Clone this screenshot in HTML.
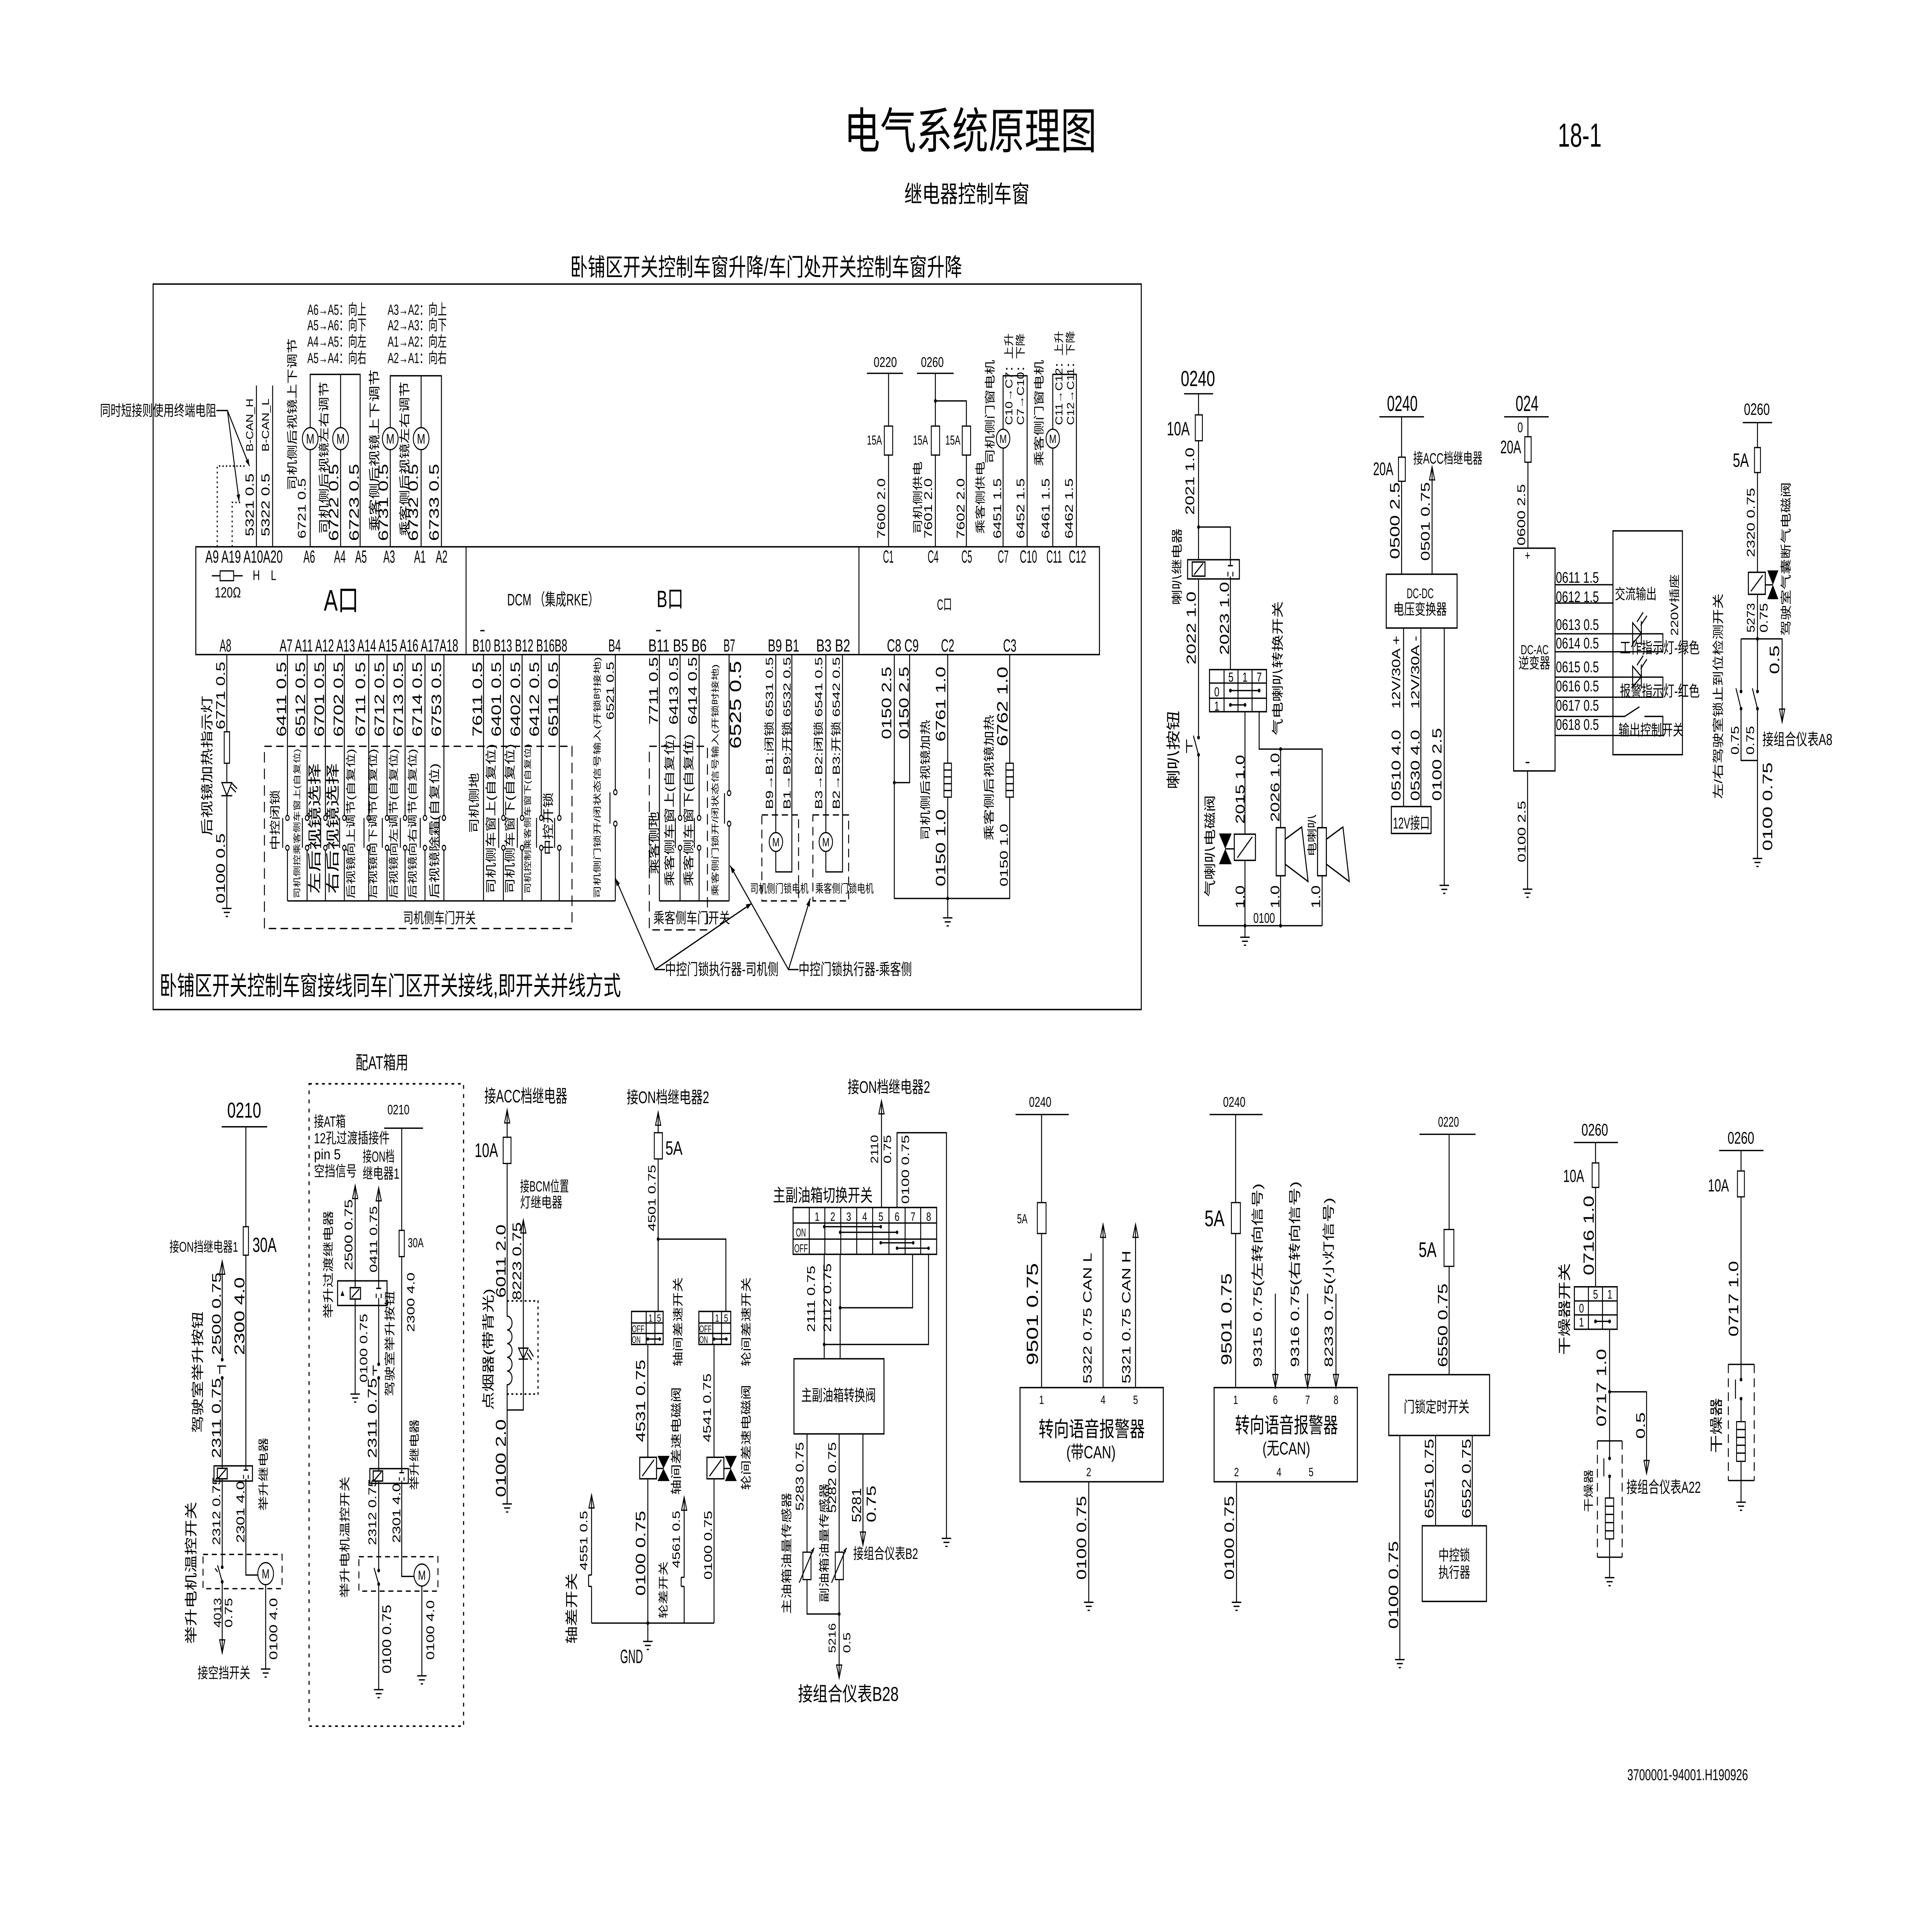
<!DOCTYPE html>
<html><head><meta charset="utf-8"><title>电气系统原理图 18-1</title>
<style>
html,body{margin:0;padding:0;width:100%;height:100%;overflow:hidden;background:#fff}
svg.main{position:fixed;left:0;top:0;width:100vw;height:100vh;display:block}
text{font-family:"Liberation Sans","Noto Sans CJK SC",sans-serif;fill:#000}
.w{stroke:#000;stroke-width:.75;fill:none}
.b{stroke:#000;stroke-width:.8;fill:#fff}
.bn{stroke:#000;stroke-width:.8;fill:none}
.d{stroke:#000;stroke-width:.75;fill:none;stroke-dasharray:6 3.5}
.dt{stroke:#000;stroke-width:.9;fill:none;stroke-dasharray:2.2 3}
.f{fill:#000;stroke:none}
.c{stroke:#000;stroke-width:.7;fill:#fff}
</style></head><body>
<svg class="main" xmlns="http://www.w3.org/2000/svg" xmlns:xlink="http://www.w3.org/1999/xlink" width="7016" height="4958" viewBox="0 0 1552 1096.77" preserveAspectRatio="none">
<defs>
<path id="g" d="M-3.8,0H3.8M-2.4,2.3H2.4M-0.9,4.6H0.9" stroke="#000" stroke-width=".75" fill="none"/>
<path id="au" d="M-2.1,7.5L0,0L2.1,7.5Z" stroke="#000" stroke-width=".7" fill="none"/>
<path id="ad" d="M-2.1,-7.5L0,0L2.1,-7.5Z" stroke="#000" stroke-width=".7" fill="none"/>
</defs>
<rect x="0" y="0" width="1552" height="1096.77" fill="#fff"/>

<!-- ===== Header ===== -->
<text x="678" y="85" font-size="28" textLength="203" lengthAdjust="spacingAndGlyphs">电气系统原理图</text>
<text x="1251.4" y="84" font-size="19" textLength="35.2" lengthAdjust="spacingAndGlyphs">18-1</text>
<text x="726.4" y="115.8" font-size="13.5" textLength="100.7" lengthAdjust="spacingAndGlyphs">继电器控制车窗</text>
<text x="458" y="157.8" font-size="14" textLength="314.9" lengthAdjust="spacingAndGlyphs">卧铺区开关控制车窗升降/车门处开关控制车窗升降</text>

<!-- ===== Top frame ===== -->
<rect x="123" y="162.6" width="793.8" height="415.3" class="bn"/>
<text x="128.1" y="569.5" font-size="15" textLength="370.7" lengthAdjust="spacingAndGlyphs">卧铺区开关控制车窗接线同车门区开关接线,即开关并线方式</text>

<!-- DCM box -->
<rect x="157.3" y="313" width="725.9" height="61.7" class="bn"/>
<path class="w" d="M374.4,313V374.7M690,313V374.7"/>
<g font-size="10">
<text x="164.9" y="322.1" textLength="62.2" lengthAdjust="spacingAndGlyphs">A9 A19 A10A20</text>
<text x="243.7" y="322.1" textLength="9.4" lengthAdjust="spacingAndGlyphs">A6</text>
<text x="268.3" y="322.1" textLength="9.4" lengthAdjust="spacingAndGlyphs">A4</text>
<text x="285.3" y="322.1" textLength="9.4" lengthAdjust="spacingAndGlyphs">A5</text>
<text x="307.9" y="322.1" textLength="9.4" lengthAdjust="spacingAndGlyphs">A3</text>
<text x="332.6" y="322.1" textLength="9.4" lengthAdjust="spacingAndGlyphs">A1</text>
<text x="350.1" y="322.1" textLength="9.4" lengthAdjust="spacingAndGlyphs">A2</text>
<text x="176.4" y="373" textLength="9.4" lengthAdjust="spacingAndGlyphs">A8</text>
<text x="224.6" y="373" textLength="143.5" lengthAdjust="spacingAndGlyphs">A7 A11 A12 A13 A14 A15 A16 A17A18</text>
<text x="379.5" y="373" textLength="76.2" lengthAdjust="spacingAndGlyphs">B10 B13 B12 B16B8</text>
<text x="488.7" y="373" textLength="10" lengthAdjust="spacingAndGlyphs">B4</text>
<text x="520.8" y="373" textLength="46.9" lengthAdjust="spacingAndGlyphs">B11 B5 B6</text>
<text x="581.2" y="373" textLength="9.4" lengthAdjust="spacingAndGlyphs">B7</text>
<text x="616.8" y="373" textLength="25.2" lengthAdjust="spacingAndGlyphs">B9 B1</text>
<text x="655.7" y="373" textLength="27.3" lengthAdjust="spacingAndGlyphs">B3 B2</text>
<text x="712.5" y="373" textLength="25.5" lengthAdjust="spacingAndGlyphs">C8 C9</text>
<text x="755.9" y="373" textLength="10.7" lengthAdjust="spacingAndGlyphs">C2</text>
<text x="805.8" y="373" textLength="10.7" lengthAdjust="spacingAndGlyphs">C3</text>
<text x="709.3" y="322.1" textLength="8.6" lengthAdjust="spacingAndGlyphs">C1</text>
<text x="745.2" y="322.1" textLength="8.8" lengthAdjust="spacingAndGlyphs">C4</text>
<text x="772.3" y="322.1" textLength="8.6" lengthAdjust="spacingAndGlyphs">C5</text>
<text x="801.5" y="322.1" textLength="8.8" lengthAdjust="spacingAndGlyphs">C7</text>
<text x="819.2" y="322.1" textLength="13.9" lengthAdjust="spacingAndGlyphs">C10</text>
<text x="840.6" y="322.1" textLength="12.6" lengthAdjust="spacingAndGlyphs">C11</text>
<text x="858.6" y="322.1" textLength="13.9" lengthAdjust="spacingAndGlyphs">C12</text>
</g>
<path class="w" d="M385.8,361H389.3M527,361H530.8"/>
<text x="203" y="332" font-size="8">H</text>
<text x="217.5" y="332" font-size="8">L</text>
<path class="w" d="M170.2,329.6H176.8M187.7,329.6H194.9"/>
<rect x="176.8" y="326.8" width="10.9" height="5.6" class="c"/>
<text x="172.5" y="342" font-size="8.5" textLength="21" lengthAdjust="spacingAndGlyphs">120Ω</text>
<text x="260.1" y="349.5" font-size="17" textLength="28" lengthAdjust="spacingAndGlyphs">A口</text>
<text x="407.4" y="346.5" font-size="9.5" textLength="73.6" lengthAdjust="spacingAndGlyphs">DCM （集成RKE）</text>
<text x="527.5" y="347.5" font-size="13.5" textLength="21.5" lengthAdjust="spacingAndGlyphs">B口</text>
<text x="752.7" y="349" font-size="8.5" textLength="12" lengthAdjust="spacingAndGlyphs">C口</text>

<!-- A top wiring -->
<path class="w" d="M206,220.7V313M219,220.7V313"/>
<path class="dt" style="stroke-dasharray:1 1.8" d="M174.5,313V266.8H196.6M186.5,313V287.6H194.1"/>
<text x="80.3" y="238" font-size="8.5" textLength="93.5" lengthAdjust="spacingAndGlyphs">同时短接则使用终端电阻</text>
<path class="w" d="M173.8,235H182.7L200.4,266.8M182.7,235L192.1,287"/>
<path class="f" d="M200.4,266.8L199.68,262.62L197.24,263.98ZM192.1,287L192.78,282.85L190.02,283.35Z"/>
<path class="w" d="M249.2,313V214.3H289.3V313M273.6,214.3V313M313.5,313V215.1H354.6V313M338.3,215.1V313"/>
<g>
<circle cx="249.2" cy="251.1" r="6.3" class="c"/><circle cx="273.6" cy="251.1" r="6.3" class="c"/>
<circle cx="313.5" cy="251.1" r="6.3" class="c"/><circle cx="338.3" cy="251.1" r="6.3" class="c"/>
<g font-size="8" text-anchor="middle"><text x="249.2" y="254">M</text><text x="273.6" y="254">M</text><text x="313.5" y="254">M</text><text x="338.3" y="254">M</text></g>
</g>
<g font-size="8.5">
<text x="246.9" y="180.2" textLength="47.5" lengthAdjust="spacingAndGlyphs">A6→A5：向上</text>
<text x="246.9" y="189" textLength="47.5" lengthAdjust="spacingAndGlyphs">A5→A6：向下</text>
<text x="246.9" y="198.4" textLength="47.5" lengthAdjust="spacingAndGlyphs">A4→A5：向左</text>
<text x="246.9" y="207.8" textLength="47.5" lengthAdjust="spacingAndGlyphs">A5→A4：向右</text>
<text x="311.4" y="180.2" textLength="47.5" lengthAdjust="spacingAndGlyphs">A3→A2：向上</text>
<text x="311.4" y="189" textLength="47.5" lengthAdjust="spacingAndGlyphs">A2→A3：向下</text>
<text x="311.4" y="198.4" textLength="47.5" lengthAdjust="spacingAndGlyphs">A1→A2：向左</text>
<text x="311.4" y="207.8" textLength="47.5" lengthAdjust="spacingAndGlyphs">A2→A1：向右</text>
</g>
<text transform="translate(237.8,280.7) rotate(-90)" font-size="8.7" textLength="87.1" lengthAdjust="spacingAndGlyphs">司机侧后视镜上下调节</text>
<text transform="translate(245.5,308.3) rotate(-90)" font-size="9" textLength="34.5" lengthAdjust="spacingAndGlyphs">6721 0.5</text>
<text transform="translate(263.2,305.6) rotate(-90)" font-size="8.7" textLength="87.2" lengthAdjust="spacingAndGlyphs">司机侧后视镜左右调节</text>
<text transform="translate(271.7,309.7) rotate(-90)" font-size="11" textLength="44.2" lengthAdjust="spacingAndGlyphs">6722 0.5</text>
<text transform="translate(288.2,309.7) rotate(-90)" font-size="11" textLength="44.2" lengthAdjust="spacingAndGlyphs">6723 0.5</text>
<text transform="translate(304.1,304.2) rotate(-90)" font-size="9.2" textLength="92.7" lengthAdjust="spacingAndGlyphs">乘客侧后视镜上下调节</text>
<text transform="translate(311.6,309.7) rotate(-90)" font-size="11" textLength="44.2" lengthAdjust="spacingAndGlyphs">6731 0.5</text>
<text transform="translate(328.1,307) rotate(-90)" font-size="8.8" textLength="88.6" lengthAdjust="spacingAndGlyphs">乘客侧后视镜左右调节</text>
<text transform="translate(335.7,309.7) rotate(-90)" font-size="11" textLength="44.2" lengthAdjust="spacingAndGlyphs">6732 0.5</text>
<text transform="translate(352.5,309.7) rotate(-90)" font-size="11" textLength="44.2" lengthAdjust="spacingAndGlyphs">6733 0.5</text>
<text transform="translate(203.3,258.5) rotate(-90)" font-size="8" textLength="30.4" lengthAdjust="spacingAndGlyphs">B-CAN_H</text>
<text transform="translate(203.8,307) rotate(-90)" font-size="9.5" textLength="36" lengthAdjust="spacingAndGlyphs">5321 0.5</text>
<text transform="translate(216,258.5) rotate(-90)" font-size="8" textLength="30.4" lengthAdjust="spacingAndGlyphs">B-CAN_L</text>
<text transform="translate(216.5,307) rotate(-90)" font-size="9.5" textLength="36" lengthAdjust="spacingAndGlyphs">5322 0.5</text>

<!-- A8 heater indicator -->
<path class="w" d="M182.2,374.7V418.9M182.2,436.9V448M182.2,455.5V520"/>
<rect x="180.1" y="418.9" width="4.3" height="18" class="c"/>
<path class="w" d="M178.2,448H186.2L182.2,455.3ZM177.8,455.5H186.6M185.5,450.5L189.5,453.5M186.5,448.5L190.5,451.5"/>
<use xlink:href="#g" x="182.2" y="520"/>
<text transform="translate(169.8,478.4) rotate(-90)" font-size="10" textLength="80.2" lengthAdjust="spacingAndGlyphs">后视镜加热指示灯</text>
<text transform="translate(180.7,417.5) rotate(-90)" font-size="10" textLength="38.7" lengthAdjust="spacingAndGlyphs">6771 0.5</text>
<text transform="translate(180.7,517.1) rotate(-90)" font-size="10" textLength="40.1" lengthAdjust="spacingAndGlyphs">0100 0.5</text>

<!-- Driver door switches -->
<path class="w" d="M230.9,374.7V466.8M230.9,486.7V515.7M246.7,374.7V466.8M246.7,486.7V515.7M261.4,374.7V466.8M261.4,486.7V515.7M276.6,374.7V466.8M276.6,486.7V515.7M296.2,374.7V466.8M296.2,486.7V515.7M310.9,374.7V466.8M310.9,486.7V515.7M325.4,374.7V466.8M325.4,486.7V515.7M341.4,374.7V466.8M341.4,486.7V515.7M356.6,374.7V466.8M356.6,486.7V515.7M388.4,374.7V515.7M404.4,374.7V466.8M404.4,486.7V515.7M419.4,374.7V466.8M419.4,486.7V515.7M434.8,374.7V466.8M434.8,486.7V515.7M449.3,374.7V466.8M449.3,486.7V515.7M494.3,374.7V452.1M494.3,472.9V515.7M230.9,515.7H494.3"/>
<path class="w" d="M227.1,468.2V485.3M242.9,468.2V485.3M257.6,468.2V485.3M272.8,468.2V485.3M292.4,468.2V485.3M307.1,468.2V485.3M321.6,468.2V485.3M337.6,468.2V485.3M352.8,468.2V485.3M400.6,468.2V485.3M415.6,468.2V485.3M431,468.2V485.3M445.5,468.2V485.3M490,453.5V471.5"/>
<g class="c">
<circle cx="230.9" cy="468.2" r="1.4"/><circle cx="230.9" cy="485.3" r="1.4"/>
<circle cx="246.7" cy="468.2" r="1.4"/><circle cx="246.7" cy="485.3" r="1.4"/>
<circle cx="261.4" cy="468.2" r="1.4"/><circle cx="261.4" cy="485.3" r="1.4"/>
<circle cx="276.6" cy="468.2" r="1.4"/><circle cx="276.6" cy="485.3" r="1.4"/>
<circle cx="296.2" cy="468.2" r="1.4"/><circle cx="296.2" cy="485.3" r="1.4"/>
<circle cx="310.9" cy="468.2" r="1.4"/><circle cx="310.9" cy="485.3" r="1.4"/>
<circle cx="325.4" cy="468.2" r="1.4"/><circle cx="325.4" cy="485.3" r="1.4"/>
<circle cx="341.4" cy="468.2" r="1.4"/><circle cx="341.4" cy="485.3" r="1.4"/>
<circle cx="356.6" cy="468.2" r="1.4"/><circle cx="356.6" cy="485.3" r="1.4"/>
<circle cx="404.4" cy="468.2" r="1.4"/><circle cx="404.4" cy="485.3" r="1.4"/>
<circle cx="419.4" cy="468.2" r="1.4"/><circle cx="419.4" cy="485.3" r="1.4"/>
<circle cx="434.8" cy="468.2" r="1.4"/><circle cx="434.8" cy="485.3" r="1.4"/>
<circle cx="449.3" cy="468.2" r="1.4"/><circle cx="449.3" cy="485.3" r="1.4"/>
<circle cx="494.3" cy="453.5" r="1.4"/><circle cx="494.3" cy="471.5" r="1.4"/>
</g>
<rect x="212.4" y="427.2" width="247.1" height="104.3" class="d"/>
<g font-size="11">
<text transform="translate(229.8,421.7) rotate(-90)" textLength="42.9" lengthAdjust="spacingAndGlyphs">6411 0.5</text>
<text transform="translate(245.1,421.7) rotate(-90)" textLength="42.9" lengthAdjust="spacingAndGlyphs">6512 0.5</text>
<text transform="translate(260.3,421.7) rotate(-90)" textLength="42.9" lengthAdjust="spacingAndGlyphs">6701 0.5</text>
<text transform="translate(275.6,421.7) rotate(-90)" textLength="42.9" lengthAdjust="spacingAndGlyphs">6702 0.5</text>
<text transform="translate(293.3,421.7) rotate(-90)" textLength="42.9" lengthAdjust="spacingAndGlyphs">6711 0.5</text>
<text transform="translate(308.6,421.7) rotate(-90)" textLength="42.9" lengthAdjust="spacingAndGlyphs">6712 0.5</text>
<text transform="translate(323.8,421.7) rotate(-90)" textLength="42.9" lengthAdjust="spacingAndGlyphs">6713 0.5</text>
<text transform="translate(339,421.7) rotate(-90)" textLength="42.9" lengthAdjust="spacingAndGlyphs">6714 0.5</text>
<text transform="translate(354.3,421.7) rotate(-90)" textLength="42.9" lengthAdjust="spacingAndGlyphs">6753 0.5</text>
<text transform="translate(387.3,421.7) rotate(-90)" textLength="42.9" lengthAdjust="spacingAndGlyphs">7611 0.5</text>
<text transform="translate(402.5,421.7) rotate(-90)" textLength="42.9" lengthAdjust="spacingAndGlyphs">6401 0.5</text>
<text transform="translate(417.8,421.7) rotate(-90)" textLength="42.9" lengthAdjust="spacingAndGlyphs">6402 0.5</text>
<text transform="translate(433,421.7) rotate(-90)" textLength="42.9" lengthAdjust="spacingAndGlyphs">6412 0.5</text>
<text transform="translate(448.2,421.7) rotate(-90)" textLength="42.9" lengthAdjust="spacingAndGlyphs">6511 0.5</text>
</g>
<text transform="translate(223.9,486.7) rotate(-90)" font-size="8.6" textLength="34.6" lengthAdjust="spacingAndGlyphs">中控闭锁</text>
<text transform="translate(240.7,514.3) rotate(-90)" font-size="6.2" textLength="85.7" lengthAdjust="spacingAndGlyphs">司机侧控乘客侧车窗上(自复位)</text>
<text transform="translate(256.5,511.6) rotate(-90)" font-size="11" textLength="74.7" lengthAdjust="spacingAndGlyphs">左后视镜选择</text>
<text transform="translate(271.2,511.6) rotate(-90)" font-size="11" textLength="74.7" lengthAdjust="spacingAndGlyphs">右后视镜选择</text>
<text transform="translate(284.6,514.3) rotate(-90)" font-size="8" textLength="85.7" lengthAdjust="spacingAndGlyphs">后视镜向上调节(自复位)</text>
<text transform="translate(302.4,514.3) rotate(-90)" font-size="8" textLength="85.7" lengthAdjust="spacingAndGlyphs">后视镜向下调节(自复位)</text>
<text transform="translate(318.9,514.3) rotate(-90)" font-size="8" textLength="85.7" lengthAdjust="spacingAndGlyphs">后视镜向左调节(自复位)</text>
<text transform="translate(334.1,514.3) rotate(-90)" font-size="8" textLength="85.7" lengthAdjust="spacingAndGlyphs">后视镜向右调节(自复位)</text>
<text transform="translate(352.2,514.3) rotate(-90)" font-size="9" textLength="77.4" lengthAdjust="spacingAndGlyphs">后视镜除霜(自复位)</text>
<text transform="translate(384,477) rotate(-90)" font-size="9" textLength="34.6" lengthAdjust="spacingAndGlyphs">司机侧地</text>
<text transform="translate(397.4,511.6) rotate(-90)" font-size="8.8" textLength="85.8" lengthAdjust="spacingAndGlyphs">司机侧车窗上(自复位)</text>
<text transform="translate(412.6,511.6) rotate(-90)" font-size="8.8" textLength="85.8" lengthAdjust="spacingAndGlyphs">司机侧车窗下(自复位)</text>
<text transform="translate(426.1,511.6) rotate(-90)" font-size="6.2" textLength="85.8" lengthAdjust="spacingAndGlyphs">司机控制乘客侧车窗下(自复位)</text>
<text transform="translate(443.6,489.5) rotate(-90)" font-size="9" textLength="36" lengthAdjust="spacingAndGlyphs">中控开锁</text>
<text transform="translate(482.1,514.3) rotate(-90)" font-size="6.5" textLength="138.2" lengthAdjust="spacingAndGlyphs">司机侧门锁开/闭状态信号输入(开锁时接地)</text>
<text transform="translate(493.1,412) rotate(-90)" font-size="8.5" textLength="33.2" lengthAdjust="spacingAndGlyphs">6521 0.5</text>
<text x="323.8" y="528.5" font-size="8.5" textLength="58.4" lengthAdjust="spacingAndGlyphs">司机侧车门开关</text>

<!-- Passenger door switches -->
<path class="w" d="M529.7,374.7V515.7M546.3,374.7V466.8M546.3,486.7V515.7M561.6,374.7V466.8M561.6,486.7V515.7M585.7,374.7V452.6M585.7,472.9V515.7M529.7,515.7H585.7M542.5,468.2V485.3M557.8,468.2V485.3M582,454V471.5"/>
<g class="c">
<circle cx="546.3" cy="468.2" r="1.4"/><circle cx="546.3" cy="485.3" r="1.4"/>
<circle cx="561.6" cy="468.2" r="1.4"/><circle cx="561.6" cy="485.3" r="1.4"/>
<circle cx="585.7" cy="454" r="1.4"/><circle cx="585.7" cy="471.5" r="1.4"/>
</g>
<rect x="521.6" y="427.2" width="46.7" height="105.1" class="d"/>
<text transform="translate(528.6,500.5) rotate(-90)" font-size="9" textLength="36" lengthAdjust="spacingAndGlyphs">乘客侧地</text>
<text transform="translate(540.9,507.4) rotate(-90)" font-size="8.8" textLength="87.1" lengthAdjust="spacingAndGlyphs">乘客侧车窗上(自复位)</text>
<text transform="translate(556.2,507.4) rotate(-90)" font-size="8.8" textLength="87.1" lengthAdjust="spacingAndGlyphs">乘客侧车窗下(自复位)</text>
<text transform="translate(576.8,513) rotate(-90)" font-size="6.3" textLength="132.8" lengthAdjust="spacingAndGlyphs">乘客侧门锁开/闭状态信号输入(开锁时接地)</text>
<text transform="translate(528.5,414.8) rotate(-90)" font-size="10" textLength="38.7" lengthAdjust="spacingAndGlyphs">7711 0.5</text>
<text transform="translate(544.6,414.8) rotate(-90)" font-size="10" textLength="38.7" lengthAdjust="spacingAndGlyphs">6413 0.5</text>
<text transform="translate(559.8,414.8) rotate(-90)" font-size="10" textLength="38.7" lengthAdjust="spacingAndGlyphs">6414 0.5</text>
<text transform="translate(595.2,428.6) rotate(-90)" font-size="13" textLength="50.3" lengthAdjust="spacingAndGlyphs">6525 0.5</text>
<text x="524.9" y="528.5" font-size="8.5" textLength="61.6" lengthAdjust="spacingAndGlyphs">乘客侧车门开关</text>

<!-- Door lock motors -->
<rect x="612" y="466.5" width="29.5" height="49.2" class="d" style="stroke-dasharray:5 3"/>
<rect x="653" y="466.5" width="28.7" height="49.2" class="d" style="stroke-dasharray:5 3"/>
<path class="w" d="M623.2,374.7V499.1H636.1V374.7M663.4,374.7V499.1H676.8V374.7"/>
<circle cx="623.3" cy="482" r="5.4" class="c"/><circle cx="663.4" cy="482" r="5.4" class="c"/>
<g font-size="7" text-anchor="middle"><text x="623.3" y="484.5">M</text><text x="663.4" y="484.5">M</text></g>
<text transform="translate(620.9,463.2) rotate(-90)" font-size="8.4" textLength="87.1" lengthAdjust="spacingAndGlyphs">B9→B1:闭锁 6531 0.5</text>
<text transform="translate(635.1,463.2) rotate(-90)" font-size="8.4" textLength="87.1" lengthAdjust="spacingAndGlyphs">B1→B9:开锁 6532 0.5</text>
<text transform="translate(660.5,463.2) rotate(-90)" font-size="8.4" textLength="87.1" lengthAdjust="spacingAndGlyphs">B3→B2:闭锁 6541 0.5</text>
<text transform="translate(674.7,463.2) rotate(-90)" font-size="8.4" textLength="87.1" lengthAdjust="spacingAndGlyphs">B2→B3:开锁 6542 0.5</text>
<text x="602.6" y="511" font-size="6.8" textLength="46.9" lengthAdjust="spacingAndGlyphs">司机侧门锁电机</text>
<text x="654.9" y="511" font-size="6.8" textLength="46.9" lengthAdjust="spacingAndGlyphs">乘客侧门锁电机</text>
<text x="534.2" y="558" font-size="9" textLength="91.2" lengthAdjust="spacingAndGlyphs">中控门锁执行器-司机侧</text>
<text x="641.5" y="558" font-size="9" textLength="91.1" lengthAdjust="spacingAndGlyphs">中控门锁执行器-乘客侧</text>
<path class="w" d="M534.2,555H526.2L494.3,502.7M526.2,555L603.9,517.1M641.5,555H633.4L586.5,495.5M633.4,555L650.9,514.3"/>
<path class="f" d="M494.3,502.7L497.92,505.76L495.36,507.32ZM603.9,517.1L600.51,520.42L599.19,517.72ZM586.5,495.5L590.47,498.1L588.11,499.96ZM650.9,514.3L650.5,519.03L647.74,517.85Z"/>

<!-- C port top -->
<text x="701.8" y="210" font-size="8" textLength="18.7" lengthAdjust="spacingAndGlyphs">0220</text>
<text x="739.8" y="210" font-size="8" textLength="18.3" lengthAdjust="spacingAndGlyphs">0260</text>
<path class="w" d="M696.4,213.7H725.4M713.8,213.7V313M736.6,213.7H766.1M751.4,213.7V313M751.4,229.5H776.3V313"/>
<circle cx="751.4" cy="229.5" r="1.1" class="f"/>
<rect x="710.4" y="243.9" width="6.7" height="16.6" class="c"/>
<rect x="748.1" y="243.9" width="6.7" height="16.6" class="c"/>
<rect x="773" y="243.9" width="6.7" height="16.6" class="c"/>
<g font-size="7.5">
<text x="696.4" y="254.5" textLength="12.1" lengthAdjust="spacingAndGlyphs">15A</text>
<text x="733.4" y="254.5" textLength="12.1" lengthAdjust="spacingAndGlyphs">15A</text>
<text x="759.4" y="254.5" textLength="12.1" lengthAdjust="spacingAndGlyphs">15A</text>
</g>
<text transform="translate(711,308.3) rotate(-90)" font-size="9" textLength="34.5" lengthAdjust="spacingAndGlyphs">7600 2.0</text>
<text transform="translate(740.2,305.6) rotate(-90)" font-size="8.3" textLength="41.5" lengthAdjust="spacingAndGlyphs">司机侧供电</text>
<text transform="translate(748.7,308.3) rotate(-90)" font-size="9" textLength="34.5" lengthAdjust="spacingAndGlyphs">7601 2.0</text>
<text transform="translate(774.7,308.3) rotate(-90)" font-size="9" textLength="34.5" lengthAdjust="spacingAndGlyphs">7602 2.0</text>
<text transform="translate(790.5,305.6) rotate(-90)" font-size="8.3" textLength="41.5" lengthAdjust="spacingAndGlyphs">乘客侧供电</text>
<path class="w" d="M805.8,313V215.1H825.1V313M845.7,313V214.3H864.7V313"/>
<circle cx="805.8" cy="251.1" r="5.4" class="c"/><circle cx="845.7" cy="251.1" r="5.4" class="c"/>
<g font-size="7" text-anchor="middle"><text x="805.8" y="253.6">M</text><text x="845.7" y="253.6">M</text></g>
<text transform="translate(798.2,265.5) rotate(-90)" font-size="8.5" textLength="59.5" lengthAdjust="spacingAndGlyphs">司机侧门窗电机</text>
<text transform="translate(813.2,243.3) rotate(-90)" font-size="8" textLength="52.5" lengthAdjust="spacingAndGlyphs">C10→C7：上升</text>
<text transform="translate(822.6,243.3) rotate(-90)" font-size="8" textLength="52.5" lengthAdjust="spacingAndGlyphs">C7→C10：下降</text>
<text transform="translate(804.2,308.3) rotate(-90)" font-size="9" textLength="34.5" lengthAdjust="spacingAndGlyphs">6451 1.5</text>
<text transform="translate(822.9,308.3) rotate(-90)" font-size="9" textLength="34.5" lengthAdjust="spacingAndGlyphs">6452 1.5</text>
<text transform="translate(837.6,266.8) rotate(-90)" font-size="8.5" textLength="60.8" lengthAdjust="spacingAndGlyphs">乘客侧门窗电机</text>
<text transform="translate(853.4,243.3) rotate(-90)" font-size="8" textLength="53.9" lengthAdjust="spacingAndGlyphs">C11→C12：上升</text>
<text transform="translate(862.8,243.3) rotate(-90)" font-size="8" textLength="53.9" lengthAdjust="spacingAndGlyphs">C12→C11：下降</text>
<text transform="translate(843,308.3) rotate(-90)" font-size="9" textLength="34.5" lengthAdjust="spacingAndGlyphs">6461 1.5</text>
<text transform="translate(861.8,308.3) rotate(-90)" font-size="9" textLength="34.5" lengthAdjust="spacingAndGlyphs">6462 1.5</text>

<!-- C port bottom -->
<path class="w" d="M718.4,374.7V514.3H811.1V374.7M730.7,374.7V448H718.4M761.3,374.7V525.4"/>
<circle cx="718.4" cy="448" r="1.1" class="f"/><circle cx="761.3" cy="514.3" r="1.1" class="f"/>
<rect x="758.3" y="436.9" width="6" height="19.4" class="c"/>
<rect x="808.1" y="436.9" width="6" height="19.4" class="c"/>
<path class="w" d="M758.3,440.8H764.3M758.3,444.7H764.3M758.3,448.6H764.3M758.3,452.5H764.3M808.1,440.8H814.1M808.1,444.7H814.1M808.1,448.6H814.1M808.1,452.5H814.1"/>
<use xlink:href="#g" x="761.3" y="525.4"/>
<text transform="translate(715.9,423.1) rotate(-90)" font-size="11" textLength="41.5" lengthAdjust="spacingAndGlyphs">0150 2.5</text>
<text transform="translate(729.9,423.1) rotate(-90)" font-size="11" textLength="41.5" lengthAdjust="spacingAndGlyphs">0150 2.5</text>
<text transform="translate(746.4,481.1) rotate(-90)" font-size="8.6" textLength="69.1" lengthAdjust="spacingAndGlyphs">司机侧后视镜加热</text>
<text transform="translate(759.4,424.5) rotate(-90)" font-size="11" textLength="42.9" lengthAdjust="spacingAndGlyphs">6761 1.0</text>
<text transform="translate(759.4,507.4) rotate(-90)" font-size="11" textLength="44.2" lengthAdjust="spacingAndGlyphs">0150 1.0</text>
<text transform="translate(797.5,481.1) rotate(-90)" font-size="8.8" textLength="71.9" lengthAdjust="spacingAndGlyphs">乘客侧后视镜加热</text>
<text transform="translate(809.3,427.2) rotate(-90)" font-size="12" textLength="45.6" lengthAdjust="spacingAndGlyphs">6762 1.0</text>
<text transform="translate(809.5,507.4) rotate(-90)" font-size="9" textLength="35.9" lengthAdjust="spacingAndGlyphs">0150 1.0</text>

<!-- ===== Horn circuit ===== -->
<text x="948.5" y="221" font-size="12.5" textLength="27.6" lengthAdjust="spacingAndGlyphs">0240</text>
<path class="w" d="M951.2,225.4H974.5M962.8,225.4V421.1M962.8,433.2V529.9H1062.1M962.8,301.7H988.4V320.4M988.4,331.4V383.3M1000.1,407.4V529.9M1011.5,407.4V428.8H1062.1V529.9M1028.7,428.8V529.9M1000.1,529.9V536.5"/>
<circle cx="962.8" cy="301.7" r="1.1" class="f"/>
<rect x="960.2" y="237.5" width="5.7" height="14.8" class="c"/>
<text x="937.3" y="249.2" font-size="11" textLength="18.4" lengthAdjust="spacingAndGlyphs">10A</text>
<text transform="translate(959.3,294.7) rotate(-90)" font-size="10" textLength="38.5" lengthAdjust="spacingAndGlyphs">2021 1.0</text>
<rect x="954" y="320.4" width="41.6" height="11" class="b"/>
<rect x="957.7" y="321.7" width="10.3" height="8.1" class="bn"/>
<path class="w" d="M959.2,329L966.5,322.4M988.4,320.4V323.8M986.4,323.8H990.4M986.4,327.3V330M990.4,327.3V330M988.4,330V331.4"/>
<text transform="translate(948.6,346.3) rotate(-90)" font-size="8.8" textLength="43.9" lengthAdjust="spacingAndGlyphs">喇叭继电器</text>
<text transform="translate(960.6,380.4) rotate(-90)" font-size="10.7" textLength="41.8" lengthAdjust="spacingAndGlyphs">2022 1.0</text>
<text transform="translate(987.2,374.9) rotate(-90)" font-size="10.7" textLength="41.8" lengthAdjust="spacingAndGlyphs">2023 1.0</text>
<rect x="971.6" y="383.3" width="45.8" height="24.1" class="bn"/>
<path class="w" d="M983.3,383.3V407.4M994.5,383.3V407.4M1005.8,383.3V407.4M971.6,391H1017.4M971.6,399.7H1017.4M988.4,395.3H1011.5M988.4,403.5H1000.1"/>
<g class="f"><circle cx="988.4" cy="395.3" r="1.1"/><circle cx="1011.5" cy="395.3" r="1.1"/><circle cx="988.4" cy="403.5" r="1.1"/><circle cx="1000.1" cy="403.5" r="1.1"/></g>
<g font-size="7.5" text-anchor="middle"><text x="988.8" y="390.2">5</text><text x="1000.1" y="390.2">1</text><text x="1011.5" y="390.2">7</text><text x="977.5" y="398.6">0</text><text x="977.5" y="406.8">1</text></g>
<text transform="translate(1029.8,421) rotate(-90)" font-size="9.6" textLength="76.9" lengthAdjust="spacingAndGlyphs">气电喇叭转换开关</text>
<path class="w" d="M962.8,432.1L958.7,421.1M953.2,423.3V431M953.2,427H958"/>
<circle cx="962.8" cy="422.2" r="1.1" class="f"/><circle cx="962.8" cy="432.1" r="1.1" class="f"/>
<text transform="translate(946.5,451.8) rotate(-90)" font-size="11.3" textLength="45" lengthAdjust="spacingAndGlyphs">喇叭按钮</text>
<rect x="991.5" y="477.5" width="17" height="15" class="b"/>
<path class="w" d="M994,491L1006,479M984.3,485.9H991.5"/>
<path class="f" d="M979.2,477.1H989.4L984.3,485.9ZM979.2,494.7H989.4L984.3,485.9Z"/>
<text transform="translate(975.5,513.4) rotate(-90)" font-size="9.7" textLength="58.3" lengthAdjust="spacingAndGlyphs">气喇叭电磁阀</text>
<text transform="translate(999.6,471.6) rotate(-90)" font-size="10" textLength="39.5" lengthAdjust="spacingAndGlyphs">2015 1.0</text>
<text transform="translate(999.6,520) rotate(-90)" font-size="10" textLength="13.2" lengthAdjust="spacingAndGlyphs">1.0</text>
<circle cx="1028.7" cy="428.8" r="1.1" class="f"/>
<rect x="1025.2" y="473.8" width="7.2" height="27.5" class="b"/>
<rect x="1058.4" y="473.8" width="7.1" height="27.5" class="b"/>
<path class="bn" d="M1032.4,480.4L1045.7,473.4L1050.8,504.6L1032.4,494.7ZM1065.5,480.4L1078.8,473.4L1083.9,504.6L1065.5,494.7Z"/>
<text transform="translate(1027.8,470.5) rotate(-90)" font-size="10" textLength="39.5" lengthAdjust="spacingAndGlyphs">2026 1.0</text>
<text transform="translate(1027.8,520) rotate(-90)" font-size="10" textLength="13.2" lengthAdjust="spacingAndGlyphs">1.0</text>
<text transform="translate(1056.8,490.3) rotate(-90)" font-size="8" textLength="24.2" lengthAdjust="spacingAndGlyphs">电喇叭</text>
<text transform="translate(1060.5,520) rotate(-90)" font-size="10" textLength="13.2" lengthAdjust="spacingAndGlyphs">1.0</text>
<circle cx="1000.1" cy="529.9" r="1.1" class="f"/><circle cx="1028.7" cy="529.9" r="1.1" class="f"/>
<use xlink:href="#g" x="1000.1" y="536.5"/>
<text x="1006.8" y="528.3" font-size="8" textLength="17.4" lengthAdjust="spacingAndGlyphs">0100</text>

<!-- ===== DC-DC ===== -->
<text x="1114.2" y="235.3" font-size="12.5" textLength="24.6" lengthAdjust="spacingAndGlyphs">0240</text>
<path class="w" d="M1108.1,238.6H1143.9M1125.9,238.6V328.7M1150.4,328.7V267.2M1127.5,359.5V461.7M1141.4,359.5V461.7M1160.2,359.5V506.8"/>
<use xlink:href="#au" x="1150.4" y="267.2"/>
<rect x="1123.4" y="261.7" width="5.5" height="13.8" class="c"/>
<text x="1103" y="272" font-size="10.5" textLength="16.3" lengthAdjust="spacingAndGlyphs">20A</text>
<text x="1135.3" y="265.4" font-size="8.6" textLength="55.6" lengthAdjust="spacingAndGlyphs">接ACC档继电器</text>
<text transform="translate(1124.3,320) rotate(-90)" font-size="11" textLength="44" lengthAdjust="spacingAndGlyphs">0500 2.5</text>
<text transform="translate(1148.5,321) rotate(-90)" font-size="10" textLength="45" lengthAdjust="spacingAndGlyphs">0501 0.75</text>
<rect x="1113.6" y="328.7" width="56.9" height="30.8" class="bn"/>
<text x="1130" y="342.4" font-size="8" textLength="21.7" lengthAdjust="spacingAndGlyphs">DC-DC</text>
<text x="1119.3" y="351.8" font-size="8.7" textLength="43" lengthAdjust="spacingAndGlyphs">电压变换器</text>
<rect x="1117.7" y="461.7" width="31.9" height="15.4" class="bn"/>
<text x="1118.9" y="474.3" font-size="9" textLength="29.6" lengthAdjust="spacingAndGlyphs">12V接口</text>
<use xlink:href="#g" x="1160.2" y="506.8"/>
<text transform="translate(1124.8,405.7) rotate(-90)" font-size="9.5" textLength="41.8" lengthAdjust="spacingAndGlyphs">12V/30A +</text>
<text transform="translate(1125.1,458.4) rotate(-90)" font-size="10.4" textLength="40.6" lengthAdjust="spacingAndGlyphs">0510 4.0</text>
<text transform="translate(1140.1,405.7) rotate(-90)" font-size="9.5" textLength="41.8" lengthAdjust="spacingAndGlyphs">12V/30A -</text>
<text transform="translate(1140.4,458.4) rotate(-90)" font-size="10.4" textLength="40.6" lengthAdjust="spacingAndGlyphs">0530 4.0</text>
<text transform="translate(1158,458.4) rotate(-90)" font-size="10.7" textLength="41.7" lengthAdjust="spacingAndGlyphs">0100 2.5</text>

<!-- ===== DC-AC ===== -->
<text x="1217.5" y="235.3" font-size="12.5" textLength="18.4" lengthAdjust="spacingAndGlyphs">024</text>
<text x="1219" y="247.4" font-size="8" textLength="4.4" lengthAdjust="spacingAndGlyphs">0</text>
<path class="w" d="M1208.3,238.6H1244.1M1227.4,238.6V313.8M1227.1,441.3V509"/>
<rect x="1224.9" y="250" width="5.1" height="14.6" class="c"/>
<text x="1205.2" y="259.5" font-size="10.5" textLength="16.8" lengthAdjust="spacingAndGlyphs">20A</text>
<text transform="translate(1225.2,312.3) rotate(-90)" font-size="9" textLength="35.2" lengthAdjust="spacingAndGlyphs">0600 2.5</text>
<rect x="1215.9" y="313.8" width="33.3" height="127.5" class="bn"/>
<text x="1227.1" y="320.5" font-size="7.5" text-anchor="middle">+</text>
<path class="w" d="M1225.6,436.5H1228.6"/>
<text x="1221.6" y="374.5" font-size="7.5" textLength="22.5" lengthAdjust="spacingAndGlyphs">DC-AC</text>
<text x="1219.8" y="382.6" font-size="8.5" textLength="25.5" lengthAdjust="spacingAndGlyphs">逆变器</text>
<use xlink:href="#g" x="1227.1" y="509"/>
<text transform="translate(1225.4,493.6) rotate(-90)" font-size="9" textLength="35.2" lengthAdjust="spacingAndGlyphs">0100 2.5</text>
<path class="w" d="M1249.2,334.7H1295.7M1249.2,345.2H1295.7M1249.2,362.8H1335.8V373.1H1249.2M1249.2,387.6H1335.8V399.1H1249.2M1249.2,410.1H1305.1L1317,404.6M1321,410.1H1335.8V421H1249.2"/>
<path class="w" d="M1311.5,356.5V368.5L1318.5,362.5ZM1318.5,355.5V369.3M1315,356L1320,350.5M1318,358L1323,352.5"/>
<path class="w" d="M1311.5,381.3V393.3L1318.5,387.3ZM1318.5,380.3V394.1M1315,380.8L1320,375.3M1318,382.8L1323,377.3"/>
<rect x="1295.7" y="303.9" width="55.8" height="128.1" class="bn"/>
<text x="1297.2" y="343" font-size="8.4" textLength="33.6" lengthAdjust="spacingAndGlyphs">交流输出</text>
<text transform="translate(1348.1,363.9) rotate(-90)" font-size="8.5" textLength="35.2" lengthAdjust="spacingAndGlyphs">220V插座</text>
<text x="1301.2" y="373.8" font-size="8.8" textLength="64.2" lengthAdjust="spacingAndGlyphs">工作指示灯-绿色</text>
<text x="1301.2" y="398.6" font-size="8.8" textLength="64.2" lengthAdjust="spacingAndGlyphs">报警指示灯-红色</text>
<text x="1300.2" y="421" font-size="8.7" textLength="52.3" lengthAdjust="spacingAndGlyphs">输出控制开关</text>
<g font-size="8.8">
<text x="1249.8" y="333.6" textLength="34.6" lengthAdjust="spacingAndGlyphs">0611 1.5</text>
<text x="1249.8" y="344.6" textLength="34.6" lengthAdjust="spacingAndGlyphs">0612 1.5</text>
<text x="1249.8" y="360.6" textLength="34.6" lengthAdjust="spacingAndGlyphs">0613 0.5</text>
<text x="1249.8" y="371.2" textLength="34.6" lengthAdjust="spacingAndGlyphs">0614 0.5</text>
<text x="1249.8" y="384.8" textLength="34.6" lengthAdjust="spacingAndGlyphs">0615 0.5</text>
<text x="1249.8" y="395.8" textLength="34.6" lengthAdjust="spacingAndGlyphs">0616 0.5</text>
<text x="1249.8" y="406.8" textLength="34.6" lengthAdjust="spacingAndGlyphs">0617 0.5</text>
<text x="1249.8" y="417.8" textLength="34.6" lengthAdjust="spacingAndGlyphs">0618 0.5</text>
</g>

<!-- ===== 0260 airbag valve ===== -->
<text x="1400.9" y="237.5" font-size="9.5" textLength="20.8" lengthAdjust="spacingAndGlyphs">0260</text>
<path class="w" d="M1400,241.9H1423.6M1411.8,241.9V327.6M1411.8,340.2V394.7M1411.8,406.8V491.4M1398.6,365.7H1431.6V413.4M1398.6,365.7V394.7M1398.6,406.8V435.3H1411.8M1418.1,334.8H1424.2"/>
<use xlink:href="#ad" x="1431.6" y="413.4"/>
<rect x="1409.4" y="256.2" width="4.8" height="14.3" class="c"/>
<text x="1392" y="267.2" font-size="11" textLength="12.9" lengthAdjust="spacingAndGlyphs">5A</text>
<text transform="translate(1409.5,318.9) rotate(-90)" font-size="9" textLength="39.6" lengthAdjust="spacingAndGlyphs">2320 0.75</text>
<rect x="1404.5" y="327.6" width="13.6" height="12.6" class="b"/>
<path class="w" d="M1406.5,338.5L1416,329.3"/>
<path class="f" d="M1419.7,326.5H1428.6L1424.2,334.8ZM1419.7,343H1428.6L1424.2,334.8Z"/>
<text transform="translate(1437.7,363.9) rotate(-90)" font-size="8.8" textLength="87.9" lengthAdjust="spacingAndGlyphs">驾驶室气囊断气电磁阀</text>
<text transform="translate(1409.5,362.1) rotate(-90)" font-size="9" textLength="16.9" lengthAdjust="spacingAndGlyphs">5273</text>
<text transform="translate(1419.9,362.1) rotate(-90)" font-size="9" textLength="16.9" lengthAdjust="spacingAndGlyphs">0.75</text>
<circle cx="1411.8" cy="365.7" r="1.1" class="f"/>
<text transform="translate(1429.2,385.9) rotate(-90)" font-size="11" textLength="16.5" lengthAdjust="spacingAndGlyphs">0.5</text>
<text x="1415.7" y="426.5" font-size="9.3" textLength="56.3" lengthAdjust="spacingAndGlyphs">接组合仪表A8</text>
<path class="w" d="M1398.6,405.7L1394.5,394M1411.8,405.7L1407.7,394"/>
<g class="f"><circle cx="1398.6" cy="395.8" r="1.1"/><circle cx="1398.6" cy="405.7" r="1.1"/><circle cx="1411.8" cy="395.8" r="1.1"/><circle cx="1411.8" cy="405.7" r="1.1"/></g>
<text transform="translate(1396.8,432) rotate(-90)" font-size="9" textLength="16.4" lengthAdjust="spacingAndGlyphs">0.75</text>
<text transform="translate(1409.1,432) rotate(-90)" font-size="9" textLength="16.4" lengthAdjust="spacingAndGlyphs">0.75</text>
<text transform="translate(1383.5,457.3) rotate(-90)" font-size="9.1" textLength="117.6" lengthAdjust="spacingAndGlyphs">左/右驾驶室锁止到位检测开关</text>
<text transform="translate(1423.7,487) rotate(-90)" font-size="11" textLength="50.6" lengthAdjust="spacingAndGlyphs">0100 0.75</text>
<use xlink:href="#g" x="1411.8" y="491.4"/>

<!-- ===== Lift circuit (left) ===== -->
<text x="182.5" y="639.8" font-size="12.3" textLength="27.3" lengthAdjust="spacingAndGlyphs">0210</text>
<path class="w" d="M178.1,645H214.6M197.5,645V901.6H207.1M213.4,907.1V955.4M178.5,721.9V777.2M178.5,789.9V896M178.5,906.6V946.2"/>
<rect x="195.4" y="702.2" width="4.2" height="16.3" class="c"/>
<circle cx="213.4" cy="900.8" r="6.3" class="c"/>
<text x="213.4" y="903.5" font-size="7.5" text-anchor="middle">M</text>
<use xlink:href="#g" x="213.4" y="955.4"/>
<text x="202.8" y="716.6" font-size="11.6" textLength="19.4" lengthAdjust="spacingAndGlyphs">30A</text>
<text x="136.1" y="716.5" font-size="8" textLength="55.2" lengthAdjust="spacingAndGlyphs">接ON挡继电器1</text>
<use xlink:href="#au" x="178.5" y="721.9"/>
<use xlink:href="#ad" x="178.5" y="946.2"/>
<g class="f"><circle cx="178.5" cy="778.3" r="1.1"/><circle cx="178.5" cy="788.8" r="1.1"/><circle cx="178.5" cy="897.1" r="1.1"/><circle cx="178.5" cy="905.5" r="1.1"/></g>
<path class="w" d="M174.5,782H181.5M176.5,782V786.5M178.5,905.5L174.8,896M172.8,897.8L174.8,899.8"/>
<rect x="171.9" y="839.1" width="30.9" height="8.7" class="b"/>
<rect x="174.6" y="840.5" width="7.9" height="6" class="bn"/>
<path class="w" d="M175.6,846L181.5,841M178.5,839.1V840.5M178.5,846.5V847.8M197.5,839.1V841.5M195.6,841.5H199.4M195.6,844.3V846.5M199.4,844.3V846.5M197.5,846.5V847.8"/>
<text transform="translate(177.4,775.7) rotate(-90)" font-size="10.2" textLength="47.3" lengthAdjust="spacingAndGlyphs">2500 0.75</text>
<text transform="translate(196.3,775.7) rotate(-90)" font-size="11.5" textLength="44.6" lengthAdjust="spacingAndGlyphs">2300 4.0</text>
<text transform="translate(162.3,820.3) rotate(-90)" font-size="10" textLength="69.6" lengthAdjust="spacingAndGlyphs">驾驶室举升按钮</text>
<text transform="translate(177.4,834.7) rotate(-90)" font-size="10.3" textLength="45.9" lengthAdjust="spacingAndGlyphs">2311 0.75</text>
<text transform="translate(214.6,864.8) rotate(-90)" font-size="8.4" textLength="41.9" lengthAdjust="spacingAndGlyphs">举升继电器</text>
<text transform="translate(176.9,884.5) rotate(-90)" font-size="8.8" textLength="39.3" lengthAdjust="spacingAndGlyphs">2312 0.75</text>
<text transform="translate(196.4,883.2) rotate(-90)" font-size="9.1" textLength="35.4" lengthAdjust="spacingAndGlyphs">2301 4.0</text>
<text transform="translate(157.1,941) rotate(-90)" font-size="10.2" textLength="81.4" lengthAdjust="spacingAndGlyphs">举升电机温控开关</text>
<text transform="translate(177.7,931.7) rotate(-90)" font-size="8.5" textLength="17" lengthAdjust="spacingAndGlyphs">4013</text>
<text transform="translate(186.5,931.7) rotate(-90)" font-size="8.5" textLength="17" lengthAdjust="spacingAndGlyphs">0.75</text>
<text transform="translate(222.7,950.1) rotate(-90)" font-size="9" textLength="35.4" lengthAdjust="spacingAndGlyphs">0100 4.0</text>
<text x="158.7" y="960.6" font-size="8.5" textLength="42.3" lengthAdjust="spacingAndGlyphs">接空挡开关</text>
<rect x="163.1" y="889.8" width="63.5" height="19.6" class="d" style="stroke-dasharray:4 3"/>

<!-- ===== AT box ===== -->
<text x="285.7" y="612" font-size="10.6" textLength="42.3" lengthAdjust="spacingAndGlyphs">配AT箱用</text>
<rect x="248.3" y="620.4" width="124.1" height="367.7" class="dt"/>
<text x="311.2" y="637.9" font-size="7.8" textLength="17.7" lengthAdjust="spacingAndGlyphs">0210</text>
<path class="w" d="M308.6,645.8H339.8M322.7,645.8V902.4H332.6M338.9,907.9V959.3M285.3,678.6V798M304.2,679.9V779.8M304.2,789.9V898M304.2,907.9V967.2"/>
<rect x="320.6" y="704.3" width="4.2" height="15" class="c"/>
<text x="327.6" y="714" font-size="7.6" textLength="12.7" lengthAdjust="spacingAndGlyphs">30A</text>
<circle cx="338.9" cy="901.6" r="6.3" class="c"/>
<text x="338.9" y="904.3" font-size="7.5" text-anchor="middle">M</text>
<use xlink:href="#g" x="338.9" y="959.3"/>
<g font-size="8.5">
<text x="252.2" y="645" textLength="25.5" lengthAdjust="spacingAndGlyphs">接AT箱</text>
<text x="252.2" y="654.5" textLength="60.8" lengthAdjust="spacingAndGlyphs">12孔过渡插接件</text>
<text x="252.2" y="663.6" textLength="21.5" lengthAdjust="spacingAndGlyphs">pin 5</text>
<text x="252.2" y="673.4" textLength="34.4" lengthAdjust="spacingAndGlyphs">空挡信号</text>
<text x="291.3" y="665" textLength="25.6" lengthAdjust="spacingAndGlyphs">接ON档</text>
<text x="291.3" y="674.7" textLength="29.6" lengthAdjust="spacingAndGlyphs">继电器1</text>
</g>
<use xlink:href="#au" x="285.3" y="678.6"/>
<use xlink:href="#au" x="304.2" y="679.9"/>
<use xlink:href="#g" x="285.3" y="798"/>
<use xlink:href="#g" x="304.2" y="967.2"/>
<rect x="271.2" y="733.2" width="39.7" height="14.1" class="b"/>
<rect x="281.3" y="737.1" width="8.3" height="6.5" class="bn"/>
<path class="w" d="M282.5,742.8L288.5,737.9M285.3,733.2V737.1M285.3,743.6V747.3M304.2,733.2V737.5M302.2,737.5H306.2M302.2,740.5V743M306.2,740.5V743M304.2,743V747.3"/>
<path class="f" d="M273.6,741.8H276.6L275.1,738.8Z"/>
<g class="f"><circle cx="304.2" cy="780.9" r="1.1"/><circle cx="304.2" cy="788.8" r="1.1"/><circle cx="304.2" cy="899" r="1.1"/><circle cx="304.2" cy="906.8" r="1.1"/></g>
<path class="w" d="M299.8,781.5V787.5M299.8,784.5H302.8M304.2,906.8L300.5,897.5"/>
<rect x="297.1" y="840.7" width="30.9" height="8.4" class="b"/>
<rect x="299.8" y="842" width="7.6" height="5.8" class="bn"/>
<path class="w" d="M300.8,847.3L306.4,842.5M304.2,840.7V842M304.2,847.8V849.1M322.7,840.7V843M320.8,843H324.6M320.8,845.6V847.6M324.6,845.6V847.6M322.7,847.6V849.1"/>
<rect x="288.3" y="891.1" width="63.5" height="19.7" class="d" style="stroke-dasharray:4 3"/>
<text transform="translate(266.8,754.7) rotate(-90)" font-size="8.8" textLength="61.7" lengthAdjust="spacingAndGlyphs">举升过渡继电器</text>
<text transform="translate(283.1,727.1) rotate(-90)" font-size="9" textLength="40.6" lengthAdjust="spacingAndGlyphs">2500 0.75</text>
<text transform="translate(302.9,728.4) rotate(-90)" font-size="8.5" textLength="38" lengthAdjust="spacingAndGlyphs">0411 0.75</text>
<text transform="translate(295,791.4) rotate(-90)" font-size="8.5" textLength="39.4" lengthAdjust="spacingAndGlyphs">0100 0.75</text>
<text transform="translate(316.1,799.3) rotate(-90)" font-size="8.6" textLength="60.3" lengthAdjust="spacingAndGlyphs">驾驶室举升按钮</text>
<text transform="translate(302.5,834.7) rotate(-90)" font-size="10" textLength="45.9" lengthAdjust="spacingAndGlyphs">2311 0.75</text>
<text transform="translate(332.9,762.5) rotate(-90)" font-size="8.5" textLength="34.1" lengthAdjust="spacingAndGlyphs">2300 4.0</text>
<text transform="translate(335.9,853) rotate(-90)" font-size="8.4" textLength="40.6" lengthAdjust="spacingAndGlyphs">举升继电器</text>
<text transform="translate(302.1,884.5) rotate(-90)" font-size="8.8" textLength="38" lengthAdjust="spacingAndGlyphs">2312 0.75</text>
<text transform="translate(321.5,883.2) rotate(-90)" font-size="8.8" textLength="34.1" lengthAdjust="spacingAndGlyphs">2301 4.0</text>
<text transform="translate(280,914.7) rotate(-90)" font-size="8.7" textLength="69.5" lengthAdjust="spacingAndGlyphs">举升电机温控开关</text>
<text transform="translate(314.1,958) rotate(-90)" font-size="10.2" textLength="39.4" lengthAdjust="spacingAndGlyphs">0100 0.75</text>
<text transform="translate(348.8,950.1) rotate(-90)" font-size="9" textLength="34.1" lengthAdjust="spacingAndGlyphs">0100 4.0</text>

<!-- ===== Cigarette lighter ===== -->
<text x="389.1" y="631" font-size="10.2" textLength="66.6" lengthAdjust="spacingAndGlyphs">接ACC档继电器</text>
<path class="w" d="M407.4,635.3V753.4a3.93,3.93 0 0 1 0,7.86a3.93,3.93 0 0 1 0,7.86a3.93,3.93 0 0 1 0,7.86a3.93,3.93 0 0 1 0,7.86a3.93,3.93 0 0 1 0,7.86V860.9M420.4,698.3V807.1H407.4"/>
<use xlink:href="#au" x="407.4" y="635.3"/>
<use xlink:href="#au" x="420.4" y="698.3"/>
<rect x="404.2" y="651" width="6.3" height="15" class="c"/>
<text x="381.3" y="662.3" font-size="11.3" textLength="18.8" lengthAdjust="spacingAndGlyphs">10A</text>
<text x="417.8" y="682" font-size="8.3" textLength="39.2" lengthAdjust="spacingAndGlyphs">接BCM位置</text>
<text x="417.8" y="691.2" font-size="8.3" textLength="34" lengthAdjust="spacingAndGlyphs">灯继电器</text>
<path class="w" d="M416.6,771.7H424.2L420.4,777.8ZM416.6,778H424.2M423.5,774.5L427,778.5M425,772.5L428.5,776.5"/>
<path class="dt" style="stroke-dasharray:1.5 2" d="M407.4,744.7H432.2V798H407.4"/>
<use xlink:href="#g" x="407.4" y="860.9"/>
<text transform="translate(395.8,807.1) rotate(-90)" font-size="10" textLength="69.5" lengthAdjust="spacingAndGlyphs">点烟器(带背光)</text>
<text transform="translate(406.1,742.9) rotate(-90)" font-size="10.8" textLength="42" lengthAdjust="spacingAndGlyphs">6011 2.0</text>
<text transform="translate(418.8,744.2) rotate(-90)" font-size="10" textLength="44.6" lengthAdjust="spacingAndGlyphs">8223 0.75</text>
<text transform="translate(406.3,857) rotate(-90)" font-size="11.5" textLength="44.6" lengthAdjust="spacingAndGlyphs">0100 2.0</text>

<!-- ===== Differential lock ===== -->
<text x="503.4" y="631.4" font-size="9.6" textLength="66.3" lengthAdjust="spacingAndGlyphs">接ON档继电器2</text>
<path class="w" d="M528.7,636.6V750.7M528.7,709.3H583.1V750.7M520.4,769.6V939.6M573.6,769.6V929.1M475.2,929.1H573.6M475.2,855.7V901.6M475.2,908.1V929.1M549.6,857V902.9M549.6,908.1V929.1M472.8,901.6H475.2M472.8,908.1H475.2M472.8,901.6V908.1M547.2,902.9H549.6M547.2,908.1H549.6M547.2,902.9V908.1"/>
<circle cx="528.7" cy="709.3" r="1.1" class="f"/>
<use xlink:href="#au" x="528.7" y="636.6"/>
<use xlink:href="#au" x="475.2" y="855.7"/>
<use xlink:href="#au" x="549.6" y="857"/>
<rect x="525.6" y="648.4" width="6.5" height="15" class="c"/>
<text x="534.5" y="661" font-size="11" textLength="13.8" lengthAdjust="spacingAndGlyphs">5A</text>
<text transform="translate(526.6,704.8) rotate(-90)" font-size="8.5" textLength="38" lengthAdjust="spacingAndGlyphs">4501 0.75</text>
<rect x="507.3" y="750.7" width="25.4" height="18.9" class="bn"/>
<rect x="561.4" y="750.7" width="25.6" height="18.9" class="bn"/>
<path class="w" d="M519.1,750.7V769.6M526.1,750.7V769.6M507.3,757.3H532.7M507.3,763.3H532.7M572.6,750.7V769.6M579.6,750.7V769.6M561.4,757.3H587M561.4,763.3H587M520.4,766.5H530M573.6,766.5H583.5"/>
<g class="f"><circle cx="520.4" cy="766.5" r="1"/><circle cx="530" cy="766.5" r="1"/><circle cx="573.6" cy="766.5" r="1"/><circle cx="583.5" cy="766.5" r="1"/></g>
<g font-size="6" text-anchor="middle"><text x="522.6" y="756.6">1</text><text x="529.4" y="756.6">5</text><text x="576.1" y="756.6">1</text><text x="583.3" y="756.6">5</text></g>
<g font-size="5.5"><text x="507.6" y="762.6" textLength="10" lengthAdjust="spacingAndGlyphs">OFF</text><text x="507.6" y="768.8" textLength="7" lengthAdjust="spacingAndGlyphs">ON</text><text x="561.7" y="762.6" textLength="10" lengthAdjust="spacingAndGlyphs">OFF</text><text x="561.7" y="768.8" textLength="7" lengthAdjust="spacingAndGlyphs">ON</text></g>
<text transform="translate(547.5,782.2) rotate(-90)" font-size="8.5" textLength="51.1" lengthAdjust="spacingAndGlyphs">轴间差速开关</text>
<text transform="translate(602.3,782.2) rotate(-90)" font-size="8.5" textLength="51.1" lengthAdjust="spacingAndGlyphs">轮间差速开关</text>
<rect x="513.9" y="834.2" width="13.5" height="12.3" class="b"/>
<rect x="567.9" y="834.2" width="13.6" height="12.3" class="b"/>
<path class="w" d="M515.9,845L525.4,835.6M569.9,845L579.5,835.6M527.4,840.6H533M581.5,840.6H587"/>
<path class="f" d="M528.2,833.4H537.9L533,840.6ZM528.2,847.8H537.9L533,840.6ZM582.3,833.4H591.9L587,840.6ZM582.3,847.8H591.9L587,840.6Z"/>
<use xlink:href="#g" x="520.4" y="939.6"/>
<circle cx="520.4" cy="929.1" r="1.1" class="f"/>
<text transform="translate(518.2,825.5) rotate(-90)" font-size="10.6" textLength="47.2" lengthAdjust="spacingAndGlyphs">4531 0.75</text>
<text transform="translate(546.3,855.7) rotate(-90)" font-size="8.8" textLength="61.7" lengthAdjust="spacingAndGlyphs">轴间差速电磁阀</text>
<text transform="translate(571.1,825.5) rotate(-90)" font-size="8.8" textLength="39.3" lengthAdjust="spacingAndGlyphs">4541 0.75</text>
<text transform="translate(602.3,853) rotate(-90)" font-size="8.6" textLength="60.3" lengthAdjust="spacingAndGlyphs">轮间差速电磁阀</text>
<text transform="translate(518.4,913.4) rotate(-90)" font-size="11" textLength="48.6" lengthAdjust="spacingAndGlyphs">0100 0.75</text>
<text transform="translate(571.9,904.2) rotate(-90)" font-size="8.9" textLength="39.4" lengthAdjust="spacingAndGlyphs">0100 0.75</text>
<text transform="translate(471.8,899) rotate(-90)" font-size="8.5" textLength="34.2" lengthAdjust="spacingAndGlyphs">4551 0.5</text>
<text transform="translate(462.8,941) rotate(-90)" font-size="10.3" textLength="40.7" lengthAdjust="spacingAndGlyphs">轴差开关</text>
<text transform="translate(546.2,897.6) rotate(-90)" font-size="8.5" textLength="32.8" lengthAdjust="spacingAndGlyphs">4561 0.5</text>
<text transform="translate(535.7,926.5) rotate(-90)" font-size="8.2" textLength="32.8" lengthAdjust="spacingAndGlyphs">轮差开关</text>
<text x="498.2" y="952" font-size="11" textLength="18.3" lengthAdjust="spacingAndGlyphs">GND</text>

<!-- ===== Fuel tank switch ===== -->
<text x="680.9" y="625.6" font-size="9.6" textLength="66.3" lengthAdjust="spacingAndGlyphs">接ON档继电器2</text>
<path class="w" d="M708.1,630.1V691.2M720.6,691.2V648.4H760.3V880.6"/>
<use xlink:href="#au" x="708.1" y="630.1"/>
<use xlink:href="#g" x="760.3" y="880.6"/>
<text transform="translate(705.4,666) rotate(-90)" font-size="8.6" textLength="16.3" lengthAdjust="spacingAndGlyphs">2110</text>
<text transform="translate(715.8,666) rotate(-90)" font-size="8.6" textLength="16.3" lengthAdjust="spacingAndGlyphs">0.75</text>
<text transform="translate(730.2,689.1) rotate(-90)" font-size="8.7" textLength="39.4" lengthAdjust="spacingAndGlyphs">0100 0.75</text>
<text x="620.9" y="687.8" font-size="10" textLength="80.1" lengthAdjust="spacingAndGlyphs">主副油箱切换开关</text>
<rect x="637.1" y="691.2" width="115.3" height="26.8" class="bn"/>
<path class="w" d="M650.1,691.2V718M662.6,691.2V718M675.4,691.2V718M688.2,691.2V718M701,691.2V718M714.1,691.2V718M727.1,691.2V718M739.6,691.2V718M637.1,700.1H752.4M637.1,709.3H752.4M662.1,702.2H707.5M674.9,705.4H720.6M707.5,711.4H733.6M720.6,714.5H745.9"/>
<g class="f"><circle cx="662.1" cy="702.2" r="1"/><circle cx="707.5" cy="702.2" r="1"/><circle cx="674.9" cy="705.4" r="1"/><circle cx="720.6" cy="705.4" r="1"/><circle cx="707.5" cy="711.4" r="1"/><circle cx="733.6" cy="711.4" r="1"/><circle cx="720.6" cy="714.5" r="1"/><circle cx="745.9" cy="714.5" r="1"/></g>
<g font-size="7" text-anchor="middle"><text x="656.4" y="698.8">1</text><text x="669" y="698.8">2</text><text x="681.8" y="698.8">3</text><text x="694.6" y="698.8">4</text><text x="707.6" y="698.8">5</text><text x="720.6" y="698.8">6</text><text x="733.4" y="698.8">7</text><text x="746" y="698.8">8</text></g>
<g font-size="6.5"><text x="639.4" y="707.8" textLength="8" lengthAdjust="spacingAndGlyphs">ON</text><text x="638" y="716.8" textLength="11" lengthAdjust="spacingAndGlyphs">OFF</text></g>
<path class="w" d="M662.1,718V777.8M674.9,718V777.8M674.9,748.6H733.1V718M662.1,769.6H745.9V718"/>
<circle cx="674.9" cy="748.6" r="1.1" class="f"/><circle cx="662.1" cy="769.6" r="1.1" class="f"/>
<text transform="translate(654.6,762.5) rotate(-90)" font-size="8.8" textLength="38" lengthAdjust="spacingAndGlyphs">2111 0.75</text>
<text transform="translate(667.7,762.5) rotate(-90)" font-size="8.8" textLength="39.3" lengthAdjust="spacingAndGlyphs">2112 0.75</text>
<rect x="637.8" y="777.8" width="72.3" height="43" class="bn"/>
<text x="643.6" y="801.9" font-size="9" textLength="60" lengthAdjust="spacingAndGlyphs">主副油箱转换阀</text>
<path class="w" d="M648.3,820.8V923.9H674.1M674.1,820.8V960.6M693.2,820.8V884.5"/>
<circle cx="674.1" cy="923.9" r="1.1" class="f"/>
<use xlink:href="#ad" x="674.1" y="960.6"/>
<use xlink:href="#ad" x="693.2" y="884.5"/>
<rect x="645" y="888.5" width="6.5" height="15.7" class="c"/>
<rect x="671" y="888.5" width="6.5" height="15.7" class="c"/>
<path class="w" d="M642,906L654,886M668,906L680,886"/>
<path class="f" d="M654,886L651.4,887.6L653.3,888.8ZM680,886L677.4,887.6L679.3,888.8Z"/>
<text transform="translate(645.5,864.8) rotate(-90)" font-size="8.8" textLength="39.3" lengthAdjust="spacingAndGlyphs">5283 0.75</text>
<text transform="translate(634.9,923.9) rotate(-90)" font-size="8.7" textLength="69.5" lengthAdjust="spacingAndGlyphs">主油箱油量传感器</text>
<text transform="translate(671.6,866.1) rotate(-90)" font-size="8.8" textLength="40.6" lengthAdjust="spacingAndGlyphs">5282 0.75</text>
<text transform="translate(665,917.3) rotate(-90)" font-size="8.5" textLength="68.2" lengthAdjust="spacingAndGlyphs">副油箱油量传感器</text>
<text transform="translate(691.8,871.4) rotate(-90)" font-size="10.5" textLength="19.7" lengthAdjust="spacingAndGlyphs">5281</text>
<text transform="translate(703.5,871.4) rotate(-90)" font-size="10.5" textLength="21" lengthAdjust="spacingAndGlyphs">0.75</text>
<text x="685.4" y="892.4" font-size="8.7" textLength="52.1" lengthAdjust="spacingAndGlyphs">接组合仪表B2</text>
<text transform="translate(671.3,946.2) rotate(-90)" font-size="8" textLength="17.1" lengthAdjust="spacingAndGlyphs">5216</text>
<text transform="translate(683,946.2) rotate(-90)" font-size="8" textLength="11.8" lengthAdjust="spacingAndGlyphs">0.5</text>
<text x="641" y="973.7" font-size="11.5" textLength="80.9" lengthAdjust="spacingAndGlyphs">接组合仪表B28</text>

<!-- ===== Turn alarm (with CAN) ===== -->
<text x="826.6" y="633.6" font-size="8" textLength="18" lengthAdjust="spacingAndGlyphs">0240</text>
<path class="w" d="M815.8,638H858.5M836.7,638V794.3M886.1,794.3V700.8M912.2,794.3V700.8M874.6,848.2V917.2"/>
<use xlink:href="#au" x="886.1" y="700.8"/>
<use xlink:href="#au" x="912.2" y="700.8"/>
<rect x="833.3" y="688.4" width="7" height="17.7" class="c"/>
<text x="817" y="700.3" font-size="7.5" textLength="8.4" lengthAdjust="spacingAndGlyphs">5A</text>
<text transform="translate(833.7,781.5) rotate(-90)" font-size="13" textLength="58.5" lengthAdjust="spacingAndGlyphs">9501 0.75</text>
<text transform="translate(876.9,792) rotate(-90)" font-size="9.8" textLength="74.9" lengthAdjust="spacingAndGlyphs">5322 0.75 CAN L</text>
<text transform="translate(908,792) rotate(-90)" font-size="9.8" textLength="76.1" lengthAdjust="spacingAndGlyphs">5321 0.75 CAN H</text>
<rect x="819.4" y="794.3" width="115.1" height="53.9" class="bn"/>
<g font-size="7" text-anchor="middle"><text x="836.7" y="803.7">1</text><text x="886.1" y="803.7">4</text><text x="912.2" y="803.7">5</text><text x="874.6" y="845">2</text></g>
<text x="834.3" y="822.4" font-size="12.2" textLength="85.4" lengthAdjust="spacingAndGlyphs">转向语音报警器</text>
<text x="856.6" y="834.8" font-size="10" textLength="39.6" lengthAdjust="spacingAndGlyphs">(带CAN)</text>
<use xlink:href="#g" x="874.6" y="917.2"/>
<text transform="translate(872.5,904.3) rotate(-90)" font-size="10.8" textLength="48" lengthAdjust="spacingAndGlyphs">0100 0.75</text>

<!-- ===== Turn alarm (no CAN) ===== -->
<text x="982.5" y="633.6" font-size="8" textLength="18" lengthAdjust="spacingAndGlyphs">0240</text>
<path class="w" d="M971.7,638H1014.2M992.6,638V794.3M1024.5,740.5V794.3M1050.4,740.5V794.3M1073.2,740.5V794.3M993.3,848.2V917.2"/>
<use xlink:href="#ad" x="1024.5" y="794.3"/>
<use xlink:href="#ad" x="1050.4" y="794.3"/>
<use xlink:href="#ad" x="1073.2" y="794.3"/>
<rect x="989.2" y="688.4" width="7.2" height="17.7" class="c"/>
<text x="967.6" y="701.9" font-size="13" textLength="16.1" lengthAdjust="spacingAndGlyphs">5A</text>
<text transform="translate(989.2,781.5) rotate(-90)" font-size="11.8" textLength="52.7" lengthAdjust="spacingAndGlyphs">9501 0.75</text>
<text transform="translate(1013.6,782.6) rotate(-90)" font-size="9.8" textLength="105.2" lengthAdjust="spacingAndGlyphs">9315 0.75(左转向信号)</text>
<text transform="translate(1043.6,782.6) rotate(-90)" font-size="9.8" textLength="106.4" lengthAdjust="spacingAndGlyphs">9316 0.75(右转向信号)</text>
<text transform="translate(1070.7,782.6) rotate(-90)" font-size="9.8" textLength="97.1" lengthAdjust="spacingAndGlyphs">8233 0.75(小灯信号)</text>
<rect x="975.3" y="794.3" width="115.1" height="53.9" class="bn"/>
<g font-size="7" text-anchor="middle"><text x="992.6" y="803.7">1</text><text x="1024.5" y="803.7">6</text><text x="1050.4" y="803.7">7</text><text x="1073.2" y="803.7">8</text><text x="993.3" y="845">2</text><text x="1027.4" y="845">4</text><text x="1053.2" y="845">5</text></g>
<text x="992.1" y="820.1" font-size="12.2" textLength="82.7" lengthAdjust="spacingAndGlyphs">转向语音报警器</text>
<text x="1014.2" y="832.5" font-size="10" textLength="38.3" lengthAdjust="spacingAndGlyphs">(无CAN)</text>
<use xlink:href="#g" x="993.3" y="917.2"/>
<text transform="translate(991.2,904.3) rotate(-90)" font-size="10.8" textLength="48" lengthAdjust="spacingAndGlyphs">0100 0.75</text>

<!-- ===== Door lock timer ===== -->
<text x="1155.2" y="645" font-size="8" textLength="16.8" lengthAdjust="spacingAndGlyphs">0220</text>
<path class="w" d="M1140.3,649.3H1185.3M1164.1,649.3V786.9M1124.5,821.7V950M1153.2,821.7V873.4M1182.7,821.7V873.4"/>
<rect x="1160" y="703.8" width="7.9" height="21.1" class="c"/>
<text x="1139.6" y="719.5" font-size="12" textLength="14.4" lengthAdjust="spacingAndGlyphs">5A</text>
<text transform="translate(1162.7,782.6) rotate(-90)" font-size="10.8" textLength="47.9" lengthAdjust="spacingAndGlyphs">6550 0.75</text>
<rect x="1115.6" y="786.9" width="81" height="34.8" class="bn"/>
<text x="1127.6" y="808.4" font-size="8.8" textLength="52.8" lengthAdjust="spacingAndGlyphs">门锁定时开关</text>
<use xlink:href="#g" x="1124.5" y="950"/>
<text transform="translate(1123.2,932.4) rotate(-90)" font-size="11" textLength="50.3" lengthAdjust="spacingAndGlyphs">0100 0.75</text>
<text transform="translate(1151.6,869.2) rotate(-90)" font-size="10" textLength="45.6" lengthAdjust="spacingAndGlyphs">6551 0.75</text>
<text transform="translate(1181.5,869.2) rotate(-90)" font-size="10" textLength="45.6" lengthAdjust="spacingAndGlyphs">6552 0.75</text>
<rect x="1142.5" y="873.4" width="51.6" height="43.3" class="bn"/>
<text x="1155.5" y="893.3" font-size="8.5" textLength="25.5" lengthAdjust="spacingAndGlyphs">中控锁</text>
<text x="1155.5" y="903.1" font-size="8.5" textLength="25.5" lengthAdjust="spacingAndGlyphs">执行器</text>

<!-- ===== Dryer 1 ===== -->
<text x="1270.4" y="650" font-size="9.6" textLength="21.4" lengthAdjust="spacingAndGlyphs">0260</text>
<path class="w" d="M1264.3,654H1299.7M1281.7,654V736.6M1293,760.9V833.7M1293,846.2V903.1M1293,796.7H1322.7V843.5M1288.4,834.8V845.1M1283.2,824.8H1303.1M1283.2,891.4H1303.1"/>
<path class="d" style="stroke-dasharray:5 3" d="M1283.2,824.8V891.4M1303.1,824.8V891.4"/>
<use xlink:href="#ad" x="1322.7" y="843.5"/>
<rect x="1279" y="665.7" width="5.4" height="14" class="c"/>
<text x="1255.7" y="676.6" font-size="10" textLength="16.9" lengthAdjust="spacingAndGlyphs">10A</text>
<text transform="translate(1280.2,730) rotate(-90)" font-size="11.7" textLength="45.6" lengthAdjust="spacingAndGlyphs">0716 1.0</text>
<rect x="1264.7" y="736.6" width="34.4" height="24.3" class="bn"/>
<path class="w" d="M1276,736.6V760.9M1287.3,736.6V760.9M1264.7,744.7H1299.1M1264.7,752.7H1299.1M1281.7,756.4H1293"/>
<g class="f"><circle cx="1281.7" cy="756.4" r="1.1"/><circle cx="1293" cy="756.4" r="1.1"/><circle cx="1293" cy="796.7" r="1.1"/><circle cx="1293" cy="834.8" r="1.1"/><circle cx="1293" cy="845.1" r="1.1"/></g>
<g font-size="7.2" text-anchor="middle"><text x="1281.7" y="743.4">5</text><text x="1293.2" y="743.4">1</text><text x="1270.4" y="751.4">0</text><text x="1270.4" y="759.3">1</text></g>
<text transform="translate(1260.6,775.6) rotate(-90)" font-size="10.5" textLength="52.6" lengthAdjust="spacingAndGlyphs">干燥器开关</text>
<text transform="translate(1321.4,823.6) rotate(-90)" font-size="10" textLength="15.2" lengthAdjust="spacingAndGlyphs">0.5</text>
<text transform="translate(1290.2,816.6) rotate(-90)" font-size="11" textLength="44.5" lengthAdjust="spacingAndGlyphs">0717 1.0</text>
<text x="1306.5" y="854.5" font-size="9.3" textLength="59.8" lengthAdjust="spacingAndGlyphs">接组合仪表A22</text>
<rect x="1289.6" y="857.5" width="6.7" height="23.4" class="c"/>
<path class="w" d="M1289.6,862.2H1296.3M1289.6,866.9H1296.3M1289.6,871.6H1296.3M1289.6,876.3H1296.3"/>
<text transform="translate(1279,865.7) rotate(-90)" font-size="8.2" textLength="24.6" lengthAdjust="spacingAndGlyphs">干燥器</text>
<use xlink:href="#g" x="1293" y="903.1"/>

<!-- ===== Dryer 2 ===== -->
<text x="1387.8" y="654.7" font-size="9.6" textLength="21.4" lengthAdjust="spacingAndGlyphs">0260</text>
<path class="w" d="M1381,658.6H1416.6M1398.6,658.6V788.6M1398.6,801.8V859.9M1394.1,789.7V800.7M1388.4,781H1409.2M1388.4,847.5H1409.2"/>
<path class="d" style="stroke-dasharray:5 3" d="M1388.4,781V847.5M1409.2,781V847.5"/>
<g class="f"><circle cx="1398.6" cy="789.7" r="1.1"/><circle cx="1398.6" cy="800.7" r="1.1"/></g>
<rect x="1395.7" y="670.3" width="5.6" height="14.8" class="c"/>
<text x="1372" y="682" font-size="10" textLength="16.9" lengthAdjust="spacingAndGlyphs">10A</text>
<text transform="translate(1396.3,765.1) rotate(-90)" font-size="11" textLength="43.3" lengthAdjust="spacingAndGlyphs">0717 1.0</text>
<rect x="1395" y="813.8" width="7" height="22.7" class="c"/>
<path class="w" d="M1395,818.3H1402M1395,822.8H1402M1395,827.3H1402M1395,831.8H1402"/>
<text transform="translate(1382.5,831.8) rotate(-90)" font-size="10.5" textLength="31.6" lengthAdjust="spacingAndGlyphs">干燥器</text>
<use xlink:href="#g" x="1398.6" y="859.9"/>

<!-- footer -->
<text x="1307.2" y="1019" font-size="9" textLength="97" lengthAdjust="spacingAndGlyphs">3700001-94001.H190926</text>
</svg>
</body></html>
